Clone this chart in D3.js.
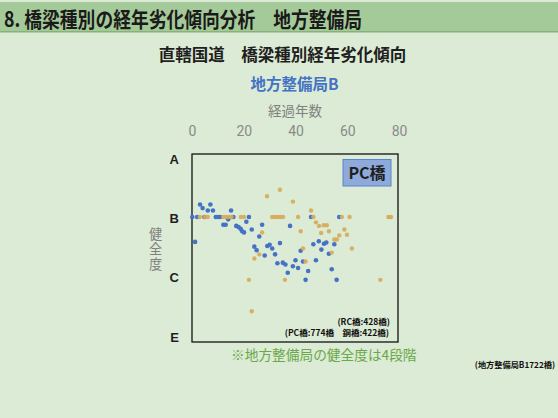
<!DOCTYPE html>
<html>
<head>
<meta charset="utf-8">
<script src="https://cdn.jsdelivr.net/npm/d3@7"></script>
<style>
  body { margin: 0; background: #dcebd5; }
  svg { display: block; }
  text { font-family: "Noto Sans CJK JP", "Noto Sans", sans-serif; }
</style>
</head>
<body>
<svg id="chart" width="558" height="418"></svg>
<script>
// Axis definitions
const ageTicks = [0, 20, 40, 60, 80];
const gradeValues = [1, 2, 3, 4];
const gradeLabels = ["A", "B", "C", "E"];

// Blue series: average health grade by years since construction
const blueAge = [0.1, 1.2, 2.0, 3.1, 4.1, 4.8, 6.1, 7.1, 8.1, 9.2, 10.0, 10.9, 12.1, 13.0, 14.0, 15.1, 16.0,
  17.1, 18.0, 18.8, 19.4, 20.1, 21.0, 22.0, 23.1, 24.1, 25.0, 26.0, 27.1, 28.1, 29.1, 30.0, 31.0, 32.1,
  33.0, 34.0, 35.1, 36.1, 37.0, 37.9, 39.0, 40.0, 41.0, 42.0, 42.9, 43.9, 44.9, 46.0, 46.9, 47.9, 49.0,
  50.0, 51.0, 51.9, 52.9, 54.0, 55.0, 55.9, 56.9];
const blueGrade = [2.00, 2.42, 2.00, 1.79, 1.85, 2.00, 1.89, 1.79, 1.89, 2.00, 2.00, 2.00, 2.13, 2.13, 2.04, 1.89, 2.00,
  2.15, 2.17, 2.20, 2.24, 2.26, 2.08, 2.00, 2.21, 2.50, 2.56, 2.33, 2.13, 2.65, 2.49, 2.47, 2.53, 2.63,
  2.78, 2.44, 2.77, 2.80, 2.94, 2.15, 2.83, 2.73, 2.86, 2.57, 2.75, 3.06, 2.91, 2.00, 2.46, 2.73, 2.41,
  2.55, 2.45, 2.43, 2.62, 2.88, 2.46, 3.06, 2.00];

// Gold series: average health grade by years since construction
const goldAge = [3.0, 5.0, 6.1, 12.1, 13.1, 14.2, 15.3, 18.9, 20.1, 31.0, 32.1, 33.1, 34.1, 35.2, 41.0, 46.9,
  57.9, 60.9, 75.9, 76.9, 29.0, 34.0, 39.0, 46.0, 27.1, 26.0, 24.1, 22.0, 35.9, 23.1, 47.9, 49.1, 50.9,
  52.1, 42.0, 49.9, 52.9, 58.9, 56.9, 59.9, 55.0, 56.0, 42.9, 54.0, 61.8, 43.9, 72.8];
const goldGrade = [2.00, 2.00, 2.00, 2.00, 2.00, 2.00, 2.00, 2.00, 2.00, 2.00, 2.00, 2.00, 2.00, 2.00, 2.00, 2.00,
  2.00, 2.00, 2.00, 2.00, 1.65, 1.54, 1.74, 1.89, 2.26, 2.63, 2.70, 3.06, 3.06, 3.59, 2.09, 2.15, 2.14,
  2.14, 2.24, 2.27, 2.24, 2.21, 2.31, 2.30, 2.38, 2.38, 2.53, 2.60, 2.53, 2.75, 3.06];

const svg = d3.select("#chart");

// Page header band
svg.append("rect").attr("x", 0).attr("y", 2).attr("width", 558).attr("height", 30).attr("fill", "#a5ca99");
svg.append("rect").attr("x", 0).attr("y", 31).attr("width", 558).attr("height", 1.5).attr("fill", "#86b477");
svg.append("text").attr("x", 4).attr("y", 27)
  .attr("font-size", 21).attr("font-weight", 700).attr("fill", "#1a1a1a")
  .attr("textLength", 358).attr("lengthAdjust", "spacingAndGlyphs")
  .text("8. 橋梁種別の経年劣化傾向分析　地方整備局");

// Chart titles
svg.append("text").attr("x", 282.5).attr("y", 61).attr("text-anchor", "middle")
  .attr("font-size", 16.5).attr("font-weight", 700).attr("fill", "#1f1f1f")
  .text("直轄国道　橋梁種別経年劣化傾向");
svg.append("text").attr("x", 294.5).attr("y", 90).attr("text-anchor", "middle")
  .attr("font-size", 15.5).attr("font-weight", 700).attr("fill", "#4472c4")
  .text("地方整備局B");
svg.append("text").attr("x", 295).attr("y", 115.5).attr("text-anchor", "middle")
  .attr("font-size", 13.5).attr("fill", "#808080")
  .text("経過年数");

// Plot area
const plotLeft = 192, plotRight = 398, plotTop = 154, plotBottom = 342;
const x = d3.scaleLinear().domain([0, 80]).range([192, 399]);
const y = d3.scaleLinear().domain([1, 4]).range([157.7, 335.6]);

svg.append("rect").attr("x", plotLeft).attr("y", plotTop)
  .attr("width", plotRight - plotLeft).attr("height", plotBottom - plotTop)
  .attr("fill", "none").attr("stroke", "#111").attr("stroke-width", 1.3);

// Top x axis (years)
const xAxis = svg.append("g").attr("transform", `translate(0,${plotTop})`)
  .call(d3.axisTop(x).tickValues(ageTicks).tickSize(0).tickPadding(18));
xAxis.select(".domain").remove();
xAxis.selectAll("text").attr("font-size", 14).attr("fill", "#8a8a8a")
  .style("font-family", "Roboto, 'Noto Sans', sans-serif");

// Left y axis (health grade)
const yAxis = svg.append("g").attr("transform", `translate(${plotLeft},0)`)
  .call(d3.axisLeft(y).tickValues(gradeValues).tickFormat((d, i) => gradeLabels[i]).tickSize(0).tickPadding(13));
yAxis.select(".domain").remove();
yAxis.selectAll("text").attr("font-size", 13).attr("font-weight", 700).attr("fill", "#1f1f1f")
  .attr("dy", "0.42em")
  .style("font-family", "'Liberation Sans', Arial, sans-serif");

// Vertical axis title
svg.append("text").attr("x", 155.5).attr("y", 249.5).attr("text-anchor", "middle")
  .style("writing-mode", "vertical-rl").style("letter-spacing", "1.8px")
  .attr("font-size", 13.2).attr("fill", "#808080").text("健全度");

// Points
const blue = blueAge.map((a, i) => ({ age: a, grade: blueGrade[i] }));
const gold = goldAge.map((a, i) => ({ age: a, grade: goldGrade[i] }));

svg.append("g").selectAll("circle").data(blue).join("circle")
  .attr("cx", d => x(d.age)).attr("cy", d => y(d.grade)).attr("r", 2.3)
  .attr("fill", "#4472c4");
svg.append("g").selectAll("circle").data(gold).join("circle")
  .attr("cx", d => x(d.age)).attr("cy", d => y(d.grade)).attr("r", 2.2)
  .attr("fill", "#d6aa58").attr("fill-opacity", 0.9);

// Series tag
svg.append("rect").attr("x", 343).attr("y", 159.5).attr("width", 48).attr("height", 26.5)
  .attr("fill", "#8eaadb").attr("stroke", "#5b83c9").attr("stroke-width", 1);
svg.append("text").attr("x", 367).attr("y", 178.5).attr("text-anchor", "middle")
  .attr("font-size", 16).attr("font-weight", 700).attr("fill", "#1f1f1f").text("PC橋");

// Bridge counts
svg.append("text").attr("x", 390).attr("y", 325).attr("text-anchor", "end")
  .attr("font-size", 8.5).attr("font-weight", 700).attr("fill", "#111").text("(RC橋:428橋)");
svg.append("text").attr("x", 389).attr("y", 335.5).attr("text-anchor", "end")
  .attr("font-size", 8.5).attr("font-weight", 700).attr("fill", "#111").text("(PC橋:774橋　鋼橋:422橋)");

// Footnotes
svg.append("text").attr("x", 231).attr("y", 360)
  .attr("font-size", 13.7).attr("fill", "#6aa84a").text("※地方整備局の健全度は4段階");
svg.append("text").attr("x", 555).attr("y", 368).attr("text-anchor", "end")
  .attr("font-size", 8.2).attr("font-weight", 700).attr("fill", "#111").text("(地方整備局B1722橋)");
</script>
</body>
</html>
